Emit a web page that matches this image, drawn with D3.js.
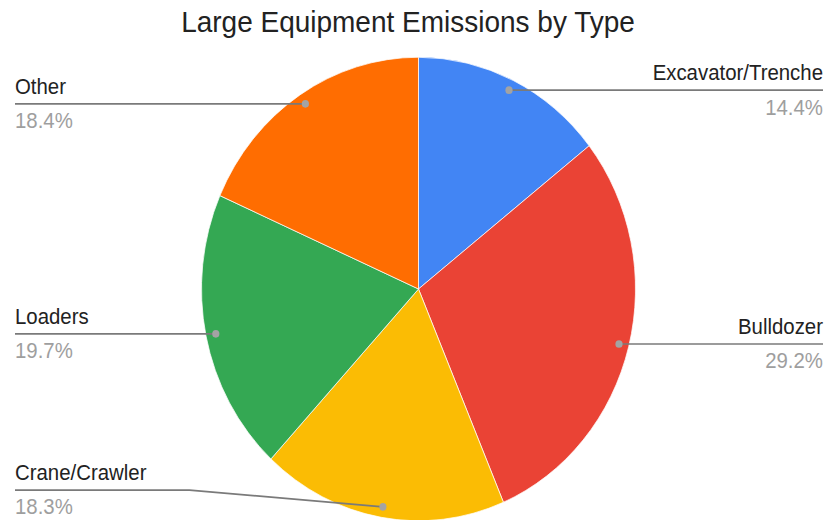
<!DOCTYPE html>
<html>
<head>
<meta charset="utf-8">
<script src="https://cdn.jsdelivr.net/npm/d3@7/dist/d3.min.js"></script>
<style>
  html, body { margin: 0; padding: 0; background: #fff; }
  svg { display: block; font-family: "Liberation Sans", Arial, Helvetica, sans-serif; }
</style>
</head>
<body>
<svg id="chart" width="827" height="520"></svg>
<script>
// Emission shares by equipment type (percent of total)
const categories = ["Excavator/Trenche", "Bulldozer", "Crane/Crawler", "Loaders", "Other"];
const shares = [14.4, 29.2, 18.3, 19.7, 18.4];
const shareLabels = ["14.4%", "29.2%", "18.3%", "19.7%", "18.4%"];
const sliceColors = ["#4285F4", "#EA4335", "#FBBC04", "#34A853", "#FF6D01"];
const chartTitle = "Large Equipment Emissions by Type";

const W = 827, H = 520;
const SY = 1.068;               // slight vertical stretch of the whole drawing
const LH = H / SY;              // layout height before the stretch

const cx = 418.5, cy = 270.6;   // pie centre (layout units)
const R = 217;                  // pie radius
const dotR = 207;               // radius where leader dots sit
const leftX = 15, rightX = 823; // label columns

const svg = d3.select("#chart");
svg.append("rect").attr("width", W).attr("height", H).attr("fill", "#fff");

const root = svg.append("g").attr("transform", `scale(1,${SY})`);

// Title
root.append("text")
  .attr("x", 408).attr("y", 29.7)
  .attr("text-anchor", "middle")
  .attr("font-size", 28)
  .attr("fill", "#222")
  .text(chartTitle);

const pie = d3.pie().sort(null).value(d => d)(shares);
const arc = d3.arc().innerRadius(0).outerRadius(R);
const dotArc = d3.arc().innerRadius(dotR).outerRadius(dotR);

const pieG = root.append("g").attr("transform", `translate(${cx},${cy})`);
pieG.selectAll("path.slice")
  .data(pie)
  .join("path")
  .attr("class", "slice")
  .attr("d", arc)
  .attr("fill", (d, i) => sliceColors[i])
  .attr("stroke", "#fff")
  .attr("stroke-width", 0.7);

// Leader lines, dots and labels
const maxLineY = LH - 28;
const labelG = root.append("g");

pie.forEach((d, i) => {
  const [dx, dy] = dotArc.centroid(d);
  const px = cx + dx, py = cy + dy;
  const mid = (d.startAngle + d.endAngle) / 2;
  const right = mid < Math.PI;
  const lineY = Math.min(py, maxLineY);
  const labelX = right ? rightX : leftX;
  const elbowX = right ? cx + R + 12 : cx - R - 12;

  const path = d3.path();
  path.moveTo(labelX, lineY);
  if (Math.abs(lineY - py) > 0.5) {
    path.lineTo(elbowX, lineY);
  }
  path.lineTo(px, py);

  labelG.append("path")
    .attr("d", path.toString())
    .attr("fill", "none")
    .attr("stroke", "#7a7a7a")
    .attr("stroke-width", 1.6);

  labelG.append("circle")
    .attr("cx", px).attr("cy", py).attr("r", 3.6)
    .attr("fill", "#a3a3a3");

  labelG.append("text")
    .attr("x", labelX).attr("y", lineY - 9.4)
    .attr("text-anchor", right ? "end" : "start")
    .attr("font-size", 20.4)
    .attr("fill", "#222")
    .text(categories[i]);

  labelG.append("text")
    .attr("x", labelX).attr("y", lineY + 22.8)
    .attr("text-anchor", right ? "end" : "start")
    .attr("font-size", 20.4)
    .attr("fill", "#9e9e9e")
    .text(shareLabels[i]);
});
</script>
</body>
</html>
